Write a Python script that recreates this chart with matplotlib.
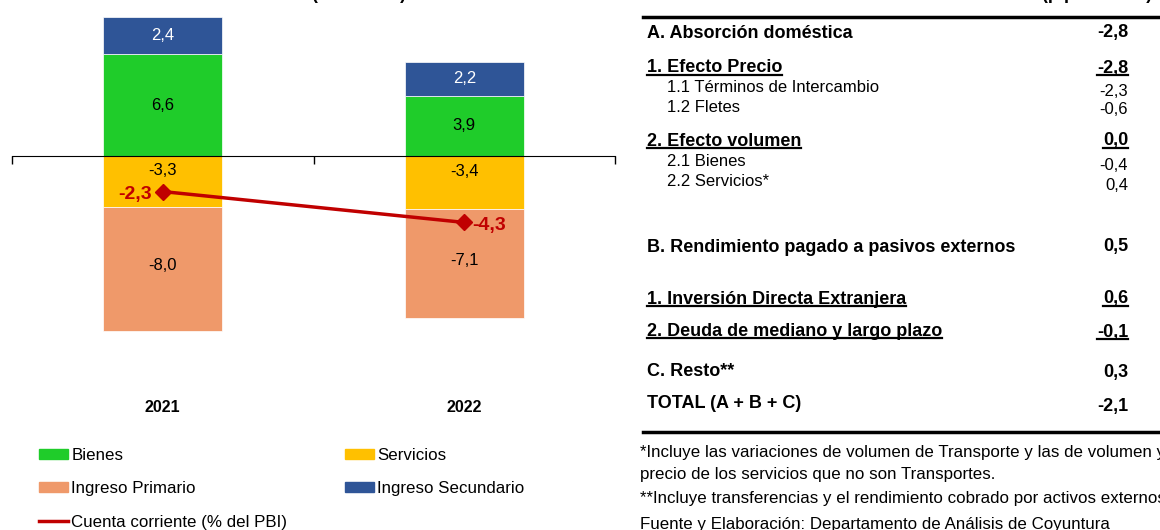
import numpy as np
import matplotlib.pyplot as plt
from matplotlib.patches import Patch
from matplotlib.lines import Line2D

plt.rcParams['font.family'] = ['Liberation Sans', 'DejaVu Sans']

# chart data
years = ['2021', '2022']
bienes = [6.6, 3.9]
servicios = [-3.3, -3.4]
ing_primario = [-8.0, -7.1]
ing_secundario = [2.4, 2.2]
cuenta_corriente = [-2.3, -4.3]

# table data
tabla_labels = ['A. Absorción doméstica', '1. Efecto Precio', '1.1 Términos de Intercambio',
                '1.2 Fletes', '2. Efecto volumen', '2.1 Bienes', '2.2 Servicios*',
                'B. Rendimiento pagado a pasivos externos', '1. Inversión Directa Extranjera',
                '2. Deuda de mediano y largo plazo', 'C. Resto**', 'TOTAL (A + B + C)']
tabla_values = [-2.8, -2.8, -2.3, -0.6, 0.0, -0.4, 0.4, 0.5, 0.6, -0.1, 0.3, -2.1]
notas = ['*Incluye las variaciones de volumen de Transporte y las de volumen y',
         'precio de los servicios que no son Transportes.',
         '**Incluye transferencias y el rendimiento cobrado por activos externos',
         'Fuente y Elaboración: Departamento de Análisis de Coyuntura']

def fmt(v):
    return '{:.1f}'.format(v).replace('.', ',')

W, H = 1160, 530
fx = lambda x: x / W
fy = lambda y: 1 - y / H

c_bienes = '#1FCC2A'
c_serv = '#FFC000'
c_prim = '#EF996A'
c_sec = '#2F5597'
c_line = '#C00000'

fig = plt.figure(figsize=(11.6, 5.3), dpi=100)
ax = fig.add_axes([fx(12), fy(434), fx(615) - fx(12), fy(1.6) - fy(434)])

x = np.arange(len(years))
w = 0.395
ax.bar(x, bienes, w, color=c_bienes, edgecolor='white', linewidth=0.5)
ax.bar(x, ing_secundario, w, bottom=bienes, color=c_sec, edgecolor='white', linewidth=0.5)
ax.bar(x, servicios, w, color=c_serv, edgecolor='white', linewidth=0.5)
ax.bar(x, ing_primario, w, bottom=servicios, color=c_prim, edgecolor='white', linewidth=0.5)

# segment labels
lfs = 12
for i in x:
    ax.text(i, bienes[i] / 2, fmt(bienes[i]), ha='center', va='center', fontsize=lfs)
    ax.text(i, bienes[i] + ing_secundario[i] / 2, fmt(ing_secundario[i]), ha='center',
            va='center', fontsize=lfs, color='white')
    ax.annotate(fmt(servicios[i]), (i, servicios[i] / 2), xytext=(0, 8), textcoords='offset points',
                ha='center', va='center', fontsize=lfs)
    ax.annotate(fmt(ing_primario[i]), (i, servicios[i] + ing_primario[i] / 2), xytext=(0, 2),
                textcoords='offset points', ha='center', va='center', fontsize=lfs)

ax.plot(x, cuenta_corriente, color=c_line, lw=2.5, marker='D', ms=8)
ax.annotate(fmt(cuenta_corriente[0]), (x[0], cuenta_corriente[0]), xytext=(-8, -2),
            textcoords='offset points', ha='right', va='center', fontsize=14,
            fontweight='bold', color=c_line)
ax.annotate(fmt(cuenta_corriente[1]), (x[1], cuenta_corriente[1]), xytext=(6, -2),
            textcoords='offset points', ha='left', va='center', fontsize=14,
            fontweight='bold', color=c_line)

for i in x:
    ax.text(i, -16.3, years[i], ha='center', va='center', fontsize=11.5, fontweight='bold')

ax.set_xlim(-0.5, 1.5)
ax.set_ylim(-18, 10)
for s in ['left', 'right', 'top']:
    ax.spines[s].set_visible(False)
ax.spines['bottom'].set_position(('data', 0))
ax.set_xticks([-0.5, 0.5, 1.5])
ax.set_xticklabels([])
ax.tick_params(axis='x', length=6, width=1)
ax.set_yticks([])

handles = [Patch(color=c_bienes), Patch(color=c_prim), Line2D([], [], color=c_line, lw=2.5),
           Patch(color=c_serv), Patch(color=c_sec)]
labels = ['Bienes', 'Ingreso Primario', 'Cuenta corriente (% del PBI)', 'Servicios',
          'Ingreso Secundario']
fig.legend(handles, labels, loc='upper left', bbox_to_anchor=(fx(39), fy(448)), ncol=2,
           frameon=False, fontsize=12.2, handlelength=1.7, handleheight=0.55,
           handletextpad=0.2, columnspacing=3.4, labelspacing=1.08, borderpad=0,
           borderaxespad=0)

# cut-off titles
fig.text(fx(406), fy(-1), '(% del PBI)', ha='right', va='baseline', fontsize=13, fontweight='bold')
fig.text(fx(1152), fy(-1), '(p.p. del PBI)', ha='right', va='baseline', fontsize=13,
         fontweight='bold')

# table
fig.add_artist(Line2D([fx(643), 1], [fy(17), fy(17)], color='black', lw=2.5))
fig.add_artist(Line2D([fx(643), 1], [fy(432), fy(432)], color='black', lw=2.5))

row_y = [33, 68, 88, 107, 141, 162, 182, 247, 299, 331, 371, 404]
val_y = [33, 68, 91, 110, 141, 165, 185, 246, 299, 332, 373, 407]
bold = [True, True, False, False, True, False, False, True, True, True, True, True]
underl = [False, True, False, False, True, False, False, False, True, True, False, False]
indent = [0, 0, 1, 1, 0, 1, 1, 0, 0, 0, 0, 0]

texts = []
for lab, val, yl, yv, b, u, ind in zip(tabla_labels, tabla_values, row_y, val_y, bold, underl, indent):
    fw = 'bold' if b else 'normal'
    fs = 13 if b else 12
    t1 = fig.text(fx(647 + 20 * ind), fy(yl), lab, ha='left', va='center', fontsize=fs, fontweight=fw)
    t2 = fig.text(fx(1128), fy(yv), fmt(val), ha='right', va='center', fontsize=fs, fontweight=fw)
    if u:
        texts += [t1, t2]

fig.canvas.draw()
r = fig.canvas.get_renderer()
for t in texts:
    bb = t.get_window_extent(r)
    yy = (bb.y0 + 2) / fig.bbox.height
    fig.add_artist(Line2D([bb.x0 / fig.bbox.width, bb.x1 / fig.bbox.width], [yy, yy],
                          color='black', lw=1.6))

for yv, nota in zip([453, 474, 498, 524], notas):
    fig.text(fx(640), fy(yv), nota, ha='left', va='center', fontsize=12.2)

fig.savefig('out.png', dpi=100)
